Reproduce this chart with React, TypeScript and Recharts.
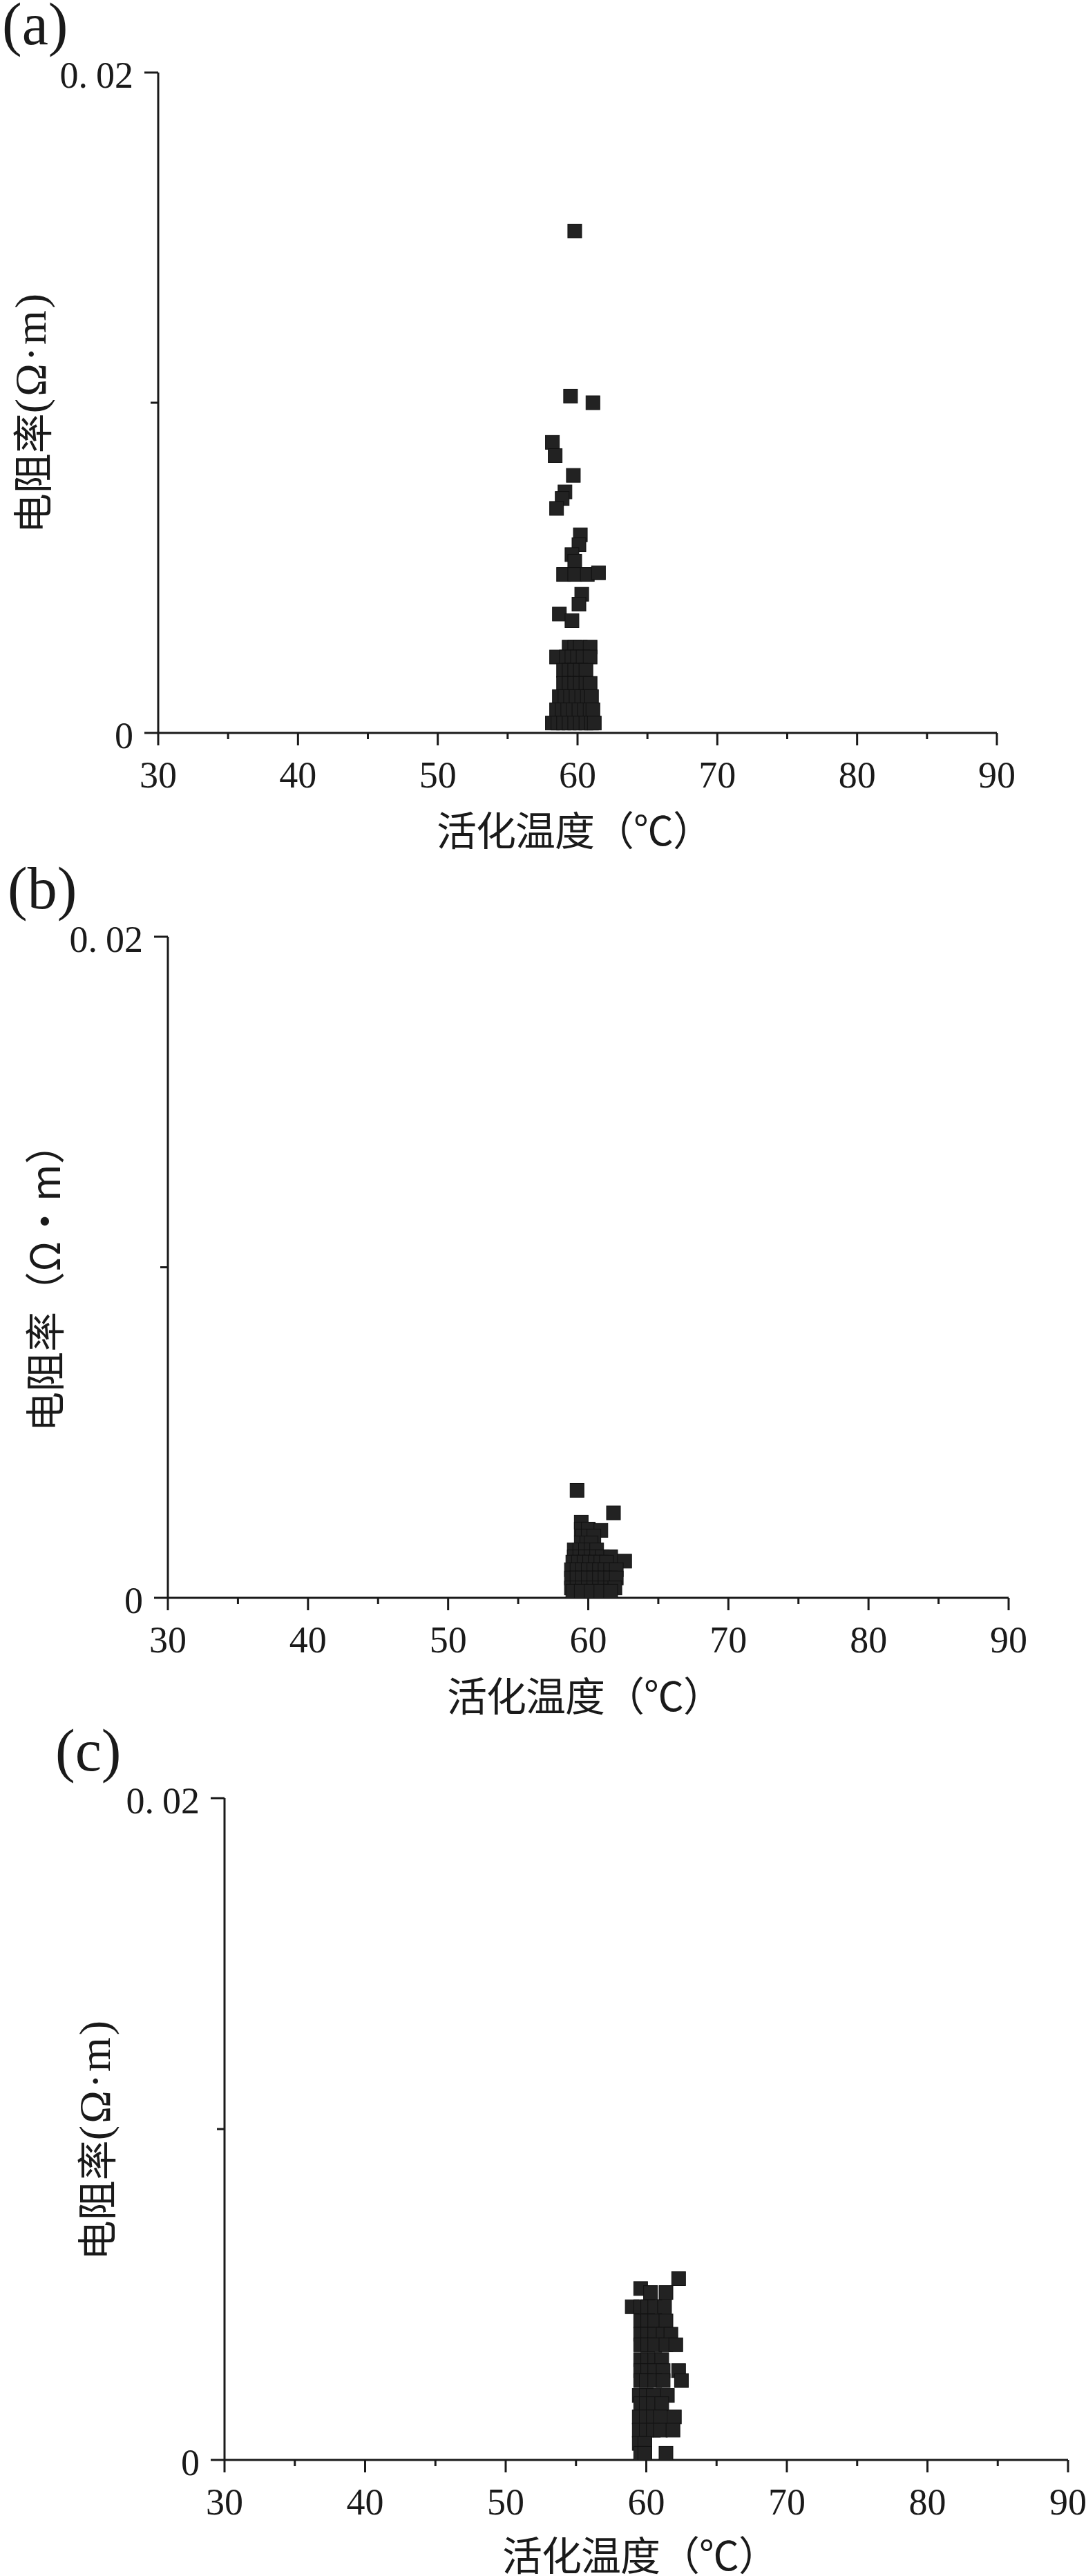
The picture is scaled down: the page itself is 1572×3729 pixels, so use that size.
import React from 'react'
import { ScatterChart, Scatter, XAxis, YAxis, Label } from 'recharts'

// [activation temperature (°C), resistivity (Ω·m)]
const pointsA: [number, number][] = [
  [59.8, 0.0152], [59.5, 0.0102], [61.1, 0.01], [58.2, 0.0088], [58.4, 0.0084],
  [59.7, 0.0078], [59.1, 0.0073], [58.9, 0.0071], [58.5, 0.0068], [60.2, 0.006],
  [60.1, 0.0057], [59.6, 0.0054], [59.8, 0.0052], [59.0, 0.0048], [59.8, 0.0048],
  [60.7, 0.0048], [61.5, 0.00485], [60.3, 0.0042], [60.1, 0.0039], [58.7, 0.0036],
  [59.6, 0.0034],
  [59.4, 0.0026], [59.8, 0.0026], [60.2, 0.0026], [60.9, 0.0026],
  [58.5, 0.0023], [59.2, 0.0023], [59.6, 0.0023], [60.0, 0.0023], [60.4, 0.0023], [60.9, 0.0023],
  [59.0, 0.0019], [59.4, 0.0019], [59.8, 0.0019], [60.2, 0.0019], [60.6, 0.0019],
  [59.0, 0.0015], [59.4, 0.0015], [59.8, 0.0015], [60.2, 0.0015], [60.6, 0.0015], [60.9, 0.0015],
  [58.7, 0.0011], [59.1, 0.0011], [59.5, 0.0011], [59.9, 0.0011], [60.3, 0.0011], [60.7, 0.0011], [61.0, 0.0011],
  [58.5, 0.0007], [58.9, 0.0007], [59.3, 0.0007], [59.7, 0.0007], [60.1, 0.0007], [60.5, 0.0007], [60.9, 0.0007], [61.1, 0.0007],
  [58.2, 0.0003], [58.6, 0.0003], [59.0, 0.0003], [59.4, 0.0003], [59.8, 0.0003], [60.2, 0.0003], [60.6, 0.0003], [61.0, 0.0003], [61.2, 0.0003],
]

const pointsB: [number, number][] = [
  [59.2, 0.00325], [61.8, 0.00257],
  [59.5, 0.00229],
  [59.5, 0.00208], [60.0, 0.00208], [60.9, 0.00204],
  [59.6, 0.00187], [60.0, 0.00187], [60.4, 0.00187],
  [59.5, 0.00166], [59.9, 0.00166], [60.2, 0.00166],
  [59.0, 0.00145], [59.4, 0.00145], [59.8, 0.00145], [60.2, 0.00145], [60.6, 0.00145],
  [59.0, 0.00124], [59.4, 0.00124], [59.8, 0.00124], [60.2, 0.00124], [60.6, 0.00124], [61.0, 0.00124], [61.6, 0.00124],
  [58.9, 0.00108], [59.3, 0.00108], [59.7, 0.00108], [60.1, 0.00108], [60.5, 0.00108], [60.9, 0.00108], [61.3, 0.00108], [62.6, 0.00111],
  [58.8, 0.00085], [59.2, 0.00085], [59.6, 0.00085], [60.0, 0.00085], [60.4, 0.00085], [60.8, 0.00085], [61.2, 0.00085], [61.6, 0.00085], [62.0, 0.00085],
  [58.8, 0.0006], [59.2, 0.0006], [59.6, 0.0006], [60.0, 0.0006], [60.4, 0.0006], [60.8, 0.0006], [61.2, 0.0006], [61.6, 0.0006], [62.0, 0.0006],
  [58.8, 0.0003], [59.2, 0.0003], [59.6, 0.0003], [60.0, 0.0003], [60.4, 0.0003], [60.8, 0.0003], [61.2, 0.0003], [61.6, 0.0003], [61.9, 0.0003],
  [58.9, 0.0002], [59.5, 0.0002], [60.2, 0.0002], [60.9, 0.0002], [61.6, 0.0002],
]

const pointsC: [number, number][] = [
  [62.3, 0.00548],
  [59.6, 0.00518],
  [60.3, 0.00506], [61.4, 0.00506],
  [59.0, 0.00463], [59.6, 0.00463], [60.1, 0.00463], [60.6, 0.00463], [61.3, 0.00463],
  [59.6, 0.0042], [60.1, 0.0042], [60.6, 0.0042], [61.4, 0.0042],
  [59.6, 0.0038], [60.1, 0.0038], [60.6, 0.0038], [61.2, 0.0038], [61.75, 0.0038],
  [59.6, 0.00348], [60.1, 0.00348], [60.6, 0.00348], [61.4, 0.00348], [62.1, 0.00348],
  [59.6, 0.00303], [60.1, 0.00303], [60.6, 0.00303], [61.1, 0.00303],
  [59.6, 0.0027], [60.1, 0.0027], [60.6, 0.0027], [61.2, 0.0027], [62.3, 0.0027],
  [59.6, 0.0024], [60.0, 0.0024], [60.6, 0.0024], [61.2, 0.0024], [62.5, 0.0024],
  [59.5, 0.00195], [60.0, 0.00195], [60.5, 0.00195], [61.5, 0.00195],
  [59.6, 0.0017], [60.0, 0.0017], [60.5, 0.0017], [61.1, 0.0017],
  [59.5, 0.0013], [60.0, 0.0013], [60.5, 0.0013], [61.0, 0.0013], [62.0, 0.0013],
  [59.5, 0.0009], [60.0, 0.0009], [60.5, 0.0009], [61.0, 0.0009], [61.9, 0.0009],
  [59.5, 0.0005], [59.9, 0.0005],
  [59.6, 0.0002], [59.9, 0.0002], [61.4, 0.0002],
]

const tempTicks = [30, 35, 40, 45, 50, 55, 60, 65, 70, 75, 80, 85, 90]
const tempLabels = [30, 40, 50, 60, 70, 80, 90]
const resTicks = [0, 0.01, 0.02]
const resLabels = [0, 0.02]

const xTitle = '活化温度（℃）'

const W = 1572
const H = 1250
const INK = '#1a1a1a'
const SERIF = "'Liberation Serif', 'DejaVu Serif', serif"
const CJK = "'Noto Sans CJK SC', sans-serif"

const panels = [
  {
    tag: '(a)', yCjk: '电阻率', yLatin: '(Ω·m)', points: pointsA, top: 0,
    plotTop: 105, plotBottom: 1061, plotLeft: 229, plotRight: 1443,
    yTitleX: 44, yTitleY: 597, xTitleX: 832, xTitleY: 1199, tagX: 3, tagY: 64,
  },
  {
    tag: '(b)', yCjk: '电阻率（Ω・m）', yLatin: '', points: pointsB, top: 1250,
    plotTop: 1356, plotBottom: 2313, plotLeft: 243, plotRight: 1460,
    yTitleX: 62, yTitleY: 1850, xTitleX: 847, xTitleY: 2452, tagX: 11, tagY: 1315,
  },
  {
    tag: '(c)', yCjk: '电阻率', yLatin: '(Ω·m)', points: pointsC, top: 2479,
    plotTop: 2603, plotBottom: 3561, plotLeft: 325, plotRight: 1546,
    yTitleX: 137, yTitleY: 3097, xTitleX: 927, xTitleY: 3696, tagX: 80, tagY: 2563,
  },
]

const XTick = (props: any) => {
  const { x, y, payload } = props
  const major = tempLabels.includes(payload.value)
  return (
    <g>
      <line x1={x} y1={y} x2={x} y2={y + (major ? 18 : 9)} stroke={INK} strokeWidth={3} />
      {major && (
        <text x={x} y={y + 61} textAnchor="middle" dominantBaseline="central"
          fontSize={54} fontFamily={SERIF} fill={INK}>
          {payload.value}
        </text>
      )}
    </g>
  )
}

const YTick = (props: any) => {
  const { x, y, payload } = props
  const major = resLabels.includes(payload.value)
  return (
    <g>
      <line x1={x - (major ? 20 : 11)} y1={y} x2={x} y2={y} stroke={INK} strokeWidth={3} />
      {major && (
        <text x={x - 36} y={y + 4} textAnchor="end" dominantBaseline="central"
          fontSize={54} fontFamily={SERIF} fill={INK}>
          {payload.value === 0 ? '0' : (
            <>
              <tspan>0.</tspan>
              <tspan dx={12}>02</tspan>
            </>
          )}
        </text>
      )}
    </g>
  )
}

const Square = (props: any) => {
  const { cx, cy } = props
  return <rect x={cx - 10} y={cy - 10} width={20} height={20} fill="#222" stroke="#111" strokeWidth={1} />
}

const Panel = ({ p }: { p: (typeof panels)[number] }) => {
  const data = p.points.map(([temp, res]) => ({ temp, res }))
  const xAxisH = 60
  const off = p.top
  return (
    <div style={{ position: 'absolute', left: 0, top: off }}>
      <ScatterChart
        width={W}
        height={H}
        margin={{
          top: p.plotTop - off,
          right: W - p.plotRight,
          left: 0,
          bottom: H - (p.plotBottom - off) - xAxisH,
        }}
      >
        <XAxis
          type="number"
          dataKey="temp"
          domain={[30, 90]}
          ticks={tempTicks}
          interval={0}
          height={xAxisH}
          tickSize={0}
          tickMargin={0}
          tick={XTick}
          axisLine={{ stroke: INK, strokeWidth: 3 }}
          allowDataOverflow
        >
          <Label
            content={() => (
              <text x={p.xTitleX} y={p.xTitleY - off} textAnchor="middle" dominantBaseline="central"
                fontSize={58} fontFamily={CJK} fill={INK} textLength={400} lengthAdjust="spacing">
                {xTitle}
              </text>
            )}
          />
        </XAxis>
        <YAxis
          type="number"
          dataKey="res"
          domain={[0, 0.02]}
          ticks={resTicks}
          interval={0}
          width={p.plotLeft}
          tickSize={0}
          tickMargin={0}
          tick={YTick}
          axisLine={{ stroke: INK, strokeWidth: 3 }}
          allowDataOverflow
        >
          <Label
            content={() => (
              <g>
                <text transform={`translate(${p.yTitleX},${p.yTitleY - off}) rotate(-90)`}
                  textAnchor="middle" dominantBaseline="central"
                  fontSize={58} fontFamily={CJK} fill={INK}>
                  <tspan>{p.yCjk}</tspan>
                  {p.yLatin && (
                    <tspan fontFamily={SERIF} fontSize={64} letterSpacing={3}>{p.yLatin}</tspan>
                  )}
                </text>
                <text x={p.tagX} y={p.tagY - off} fontSize={86} fontFamily={SERIF} fill={INK}>
                  {p.tag}
                </text>
              </g>
            )}
          />
        </YAxis>
        <Scatter data={data} shape={Square} isAnimationActive={false} />
      </ScatterChart>
    </div>
  )
}

export default function App() {
  return (
    <div style={{ position: 'relative', width: W, height: 3729, background: '#fff', overflow: 'hidden' }}>
      <style>{'body { margin: 0; }'}</style>
      {panels.map((p) => (
        <Panel key={p.tag} p={p} />
      ))}
    </div>
  )
}
